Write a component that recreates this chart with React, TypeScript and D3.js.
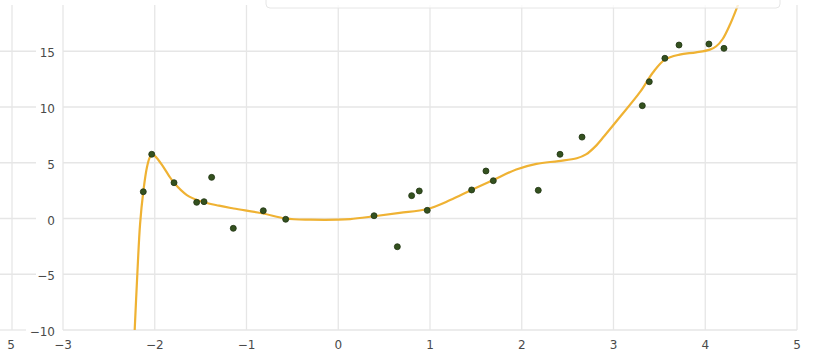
import React from "react";
import * as d3 from "d3";

// Observed samples
const sampleX = [
  -2.125, -2.033, -1.79, -1.543, -1.463, -1.38, -1.144, -0.817, -0.573,
  0.39, 0.644, 0.8, 0.883, 0.97, 1.454, 1.61, 1.69, 2.18, 2.417, 2.657,
  3.314, 3.39, 3.56, 3.714, 4.04, 4.204,
];
const sampleY = [
  2.4, 5.76, 3.21, 1.45, 1.51, 3.69, -0.88, 0.7, -0.07,
  0.25, -2.53, 2.05, 2.47, 0.73, 2.56, 4.26, 3.39, 2.53, 5.76, 7.3,
  10.12, 12.27, 14.37, 15.56, 15.65, 15.26,
];

// Fitted curve
const fitX = [
  -2.222, -2.19, -2.16, -2.125, -2.085, -2.05, -2.02, -1.98, -1.925, -1.85,
  -1.79, -1.65, -1.5, -1.3, -1.14, -0.82, -0.57, -0.3, 0.0, 0.13, 0.39, 0.67,
  0.97, 1.22, 1.45, 1.69, 1.94, 2.16, 2.4, 2.6, 2.7, 2.8, 2.9, 3.07, 3.29,
  3.43, 3.56, 3.72, 3.9, 4.05, 4.12, 4.19, 4.27, 4.34, 4.42,
];
const fitY = [
  -10.6, -5.0, -0.5, 2.4, 4.6, 5.55, 5.75, 5.45, 4.85, 3.9,
  3.2, 2.1, 1.55, 1.15, 0.9, 0.45, 0.0, -0.1, -0.1, -0.05, 0.2, 0.5,
  0.85, 1.65, 2.55, 3.45, 4.4, 4.9, 5.15, 5.4, 5.75, 6.45, 7.4, 9.1, 11.35,
  13.1, 14.25, 14.7, 14.9, 15.15, 15.45, 16.1, 17.4, 18.8, 20.5,
];

const xTicks = [-3, -2, -1, 0, 1, 2, 3, 4, 5];
const yTicks = [-10, -5, 0, 5, 10, 15];

const W = 817;
const H = 355;
const plot = { left: 63, right: 797, top: 5, bottom: 330 };

const GRID = "#e6e6e6";
const TEXT = "#4a4a4a";
const FONT = "DejaVu Sans, sans-serif";
const fmt = (v: number) => (v < 0 ? "\u2212" + Math.abs(v) : String(v));

export default function App() {
  const x = d3.scaleLinear().domain([-3, 5]).range([plot.left, plot.right]);
  const y = d3.scaleLinear().domain([-10, 19.15]).range([plot.bottom, plot.top]);

  const fit = fitX.map((v, i) => [v, fitY[i]] as [number, number]);
  const line = d3
    .line<[number, number]>()
    .x((d) => x(d[0]))
    .y((d) => y(d[1]))
    .curve(d3.curveCatmullRom.alpha(0.5));

  return (
    <div style={{ position: "absolute", left: 0, top: 0 }}>
      <svg width={W} height={H} style={{ display: "block", background: "#fff" }}>
        <defs>
          <clipPath id="plotClip">
            <rect
              x={plot.left}
              y={plot.top}
              width={plot.right - plot.left}
              height={plot.bottom - plot.top}
            />
          </clipPath>
        </defs>

        {/* neighbouring panel edge */}
        <line x1={12} x2={12} y1={plot.top} y2={plot.bottom} stroke={GRID} strokeWidth={1.3} />
        {yTicks.map((t) => (
          <line
            key={"lg" + t}
            x1={0}
            x2={t === -10 ? 26 : 36}
            y1={y(t)}
            y2={y(t)}
            stroke={GRID}
            strokeWidth={1.3}
          />
        ))}
        <text x={11} y={349} textAnchor="middle" fontFamily={FONT} fontSize={12} fill={TEXT}>
          5
        </text>

        {/* grid */}
        {xTicks.map((t) => (
          <line
            key={"gx" + t}
            x1={x(t)}
            x2={x(t)}
            y1={plot.top}
            y2={plot.bottom}
            stroke={GRID}
            strokeWidth={1.3}
          />
        ))}
        {yTicks.map((t) => (
          <line
            key={"gy" + t}
            x1={plot.left}
            x2={plot.right}
            y1={y(t)}
            y2={y(t)}
            stroke={GRID}
            strokeWidth={1.3}
          />
        ))}

        {/* tick labels */}
        {xTicks.map((t) => (
          <text
            key={"tx" + t}
            x={x(t)}
            y={349}
            textAnchor="middle"
            fontFamily={FONT}
            fontSize={12}
            fill={TEXT}
          >
            {fmt(t)}
          </text>
        ))}
        {yTicks.map((t) => (
          <text
            key={"ty" + t}
            x={55}
            y={y(t) + 2}
            textAnchor="end"
            dominantBaseline="central"
            fontFamily={FONT}
            fontSize={12}
            fill={TEXT}
          >
            {fmt(t)}
          </text>
        ))}

        <g clipPath="url(#plotClip)">
          <path d={line(fit) ?? ""} fill="none" stroke="#efb233" strokeWidth={2.2} />
          {sampleX.map((v, i) => (
            <circle
              key={"p" + i}
              cx={x(v)}
              cy={y(sampleY[i])}
              r={3}
              fill="#34511f"
              stroke="#1f3312"
              strokeWidth={0.8}
            />
          ))}
        </g>

        {/* legend frame, mostly above the visible area */}
        <rect
          x={266}
          y={-40}
          width={514}
          height={48}
          rx={4}
          fill="#fff"
          fillOpacity={0.8}
          stroke="#e6e6e6"
          strokeWidth={1}
        />
      </svg>
    </div>
  );
}
